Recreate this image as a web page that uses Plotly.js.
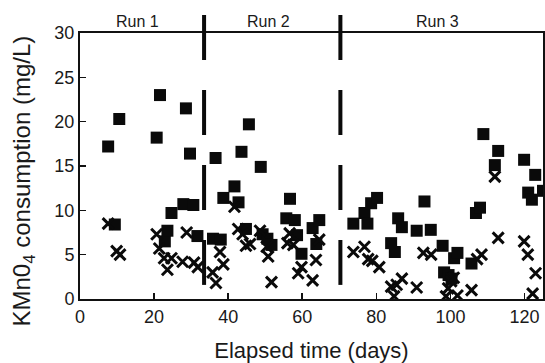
<!DOCTYPE html>
<html>
<head>
<meta charset="utf-8">
<script src="https://cdn.plot.ly/plotly-3.0.1.min.js"></script>
<style>html,body{margin:0;padding:0;background:#fff;}#chart{width:545px;height:363px;}</style>
</head>
<body>
<div id="chart"></div>
<script>
// Series A: filled squares
var sqDays = [7.6, 9.4, 10.6, 20.7, 21.6, 22.9, 23.6, 24.7, 27.9, 28.6, 29.7, 30.6, 31.7,
  35.9, 36.6, 38.0, 38.7, 41.7, 42.8, 43.6, 44.8, 45.6, 48.8, 49.3, 50.6, 51.7, 55.7, 56.7, 58.0, 58.6, 59.8, 62.8, 63.8, 64.6,
  73.8, 76.8, 77.6, 78.6, 80.2, 84.0, 85.0, 85.9, 86.9, 90.9, 93.0, 94.7, 97.9, 98.3, 99.5, 100.3, 101.0, 101.9, 105.7,
  106.9, 108.0, 108.9, 112.0, 112.9, 119.9, 121.0, 122.0, 122.9, 125.0];
var sqValues = [17.2, 8.4, 20.3, 18.2, 23.0, 6.5, 7.7, 9.7, 10.7, 21.5, 16.4, 10.6, 7.1,
  6.8, 15.9, 6.7, 11.4, 12.7, 10.9, 16.6, 7.9, 19.7, 14.9, 7.3, 6.8, 6.1, 9.1, 11.3, 8.9, 7.2, 5.1, 8.0, 6.2, 8.9,
  8.5, 9.7, 8.5, 10.8, 11.4, 6.3, 5.3, 9.1, 8.1, 7.7, 11.0, 7.8, 6.0, 3.0, 2.7, 2.3, 4.6, 5.2, 4.0,
  9.7, 10.3, 18.6, 15.1, 16.7, 15.7, 12.0, 11.2, 14.0, 12.2];

// Series B: crosses
var xDays = [7.6, 9.9, 10.8, 20.7, 21.4, 22.7, 23.6, 24.7, 27.7, 28.8, 30.8, 31.8,
  35.8, 36.7, 37.8, 38.7, 41.7, 42.7, 43.9, 44.8, 45.9, 48.6, 50.4, 50.8, 51.7, 56.0, 56.6, 57.6, 58.9, 59.8, 62.8, 63.7, 64.6,
  73.8, 76.8, 77.8, 78.9, 80.8, 84.0, 84.8, 85.5, 86.9, 90.9, 92.7, 94.8, 98.8, 99.4, 100.2, 100.9, 101.9, 105.7,
  107.2, 108.4, 112.0, 112.9, 119.9, 120.9, 122.2, 123.0];
var xValues = [8.5, 5.4, 5.0, 7.3, 5.7, 4.6, 3.3, 4.6, 4.2, 7.5, 4.1, 3.6,
  3.0, 1.8, 5.3, 3.9, 10.4, 7.9, 7.3, 6.0, 6.2, 7.7, 5.9, 4.8, 1.9, 6.3, 7.4, 6.1, 2.9, 3.6, 2.1, 4.4, 6.7,
  5.3, 5.9, 4.5, 4.3, 3.6, 1.4, 0.3, 1.6, 2.3, 1.3, 5.2, 5.0, 0.3, 1.2, 2.0, 2.4, 0.4, 1.0,
  4.5, 5.0, 13.8, 6.9, 6.5, 5.0, 0.6, 2.9];

// Run boundaries and labels
var runBoundaries = [33.5, 70.3];
var runLabels = ['Run 1', 'Run 2', 'Run 3'];
var runLabelDays = [15.4, 50.8, 96.4];

var xTicks = [0, 20, 40, 60, 80, 100, 120];
var yTicks = [0, 5, 10, 15, 20, 25, 30];

var FONT = 'Liberation Sans, Arial, Helvetica, sans-serif';
var INK = '#1a1a1a';

var traces = [
  {x: sqDays, y: sqValues, type: 'scatter', mode: 'markers', name: 'squares',
   marker: {symbol: 'square', size: 12, color: '#0a0a0a', line: {width: 0}}},
  {x: xDays, y: xValues, type: 'scatter', mode: 'markers', name: 'crosses',
   marker: {symbol: 'x-thin-open', size: 11, color: '#0a0a0a', line: {width: 3, color: '#0a0a0a'}}}
];

var shapes = runBoundaries.map(function (d) {
  return {type: 'line', xref: 'x', yref: 'paper', x0: d, x1: d, y0: 1.068, y1: 0.053,
    line: {color: '#0a0a0a', width: 4, dash: '45px,30px'}, layer: 'above'};
});

var annotations = runLabels.map(function (t, i) {
  return {text: t, x: runLabelDays[i], xref: 'x', y: 1.045, yref: 'paper',
    showarrow: false, xanchor: 'center', yanchor: 'middle',
    font: {family: FONT, size: 16, color: INK}};
});
annotations.push({
  text: 'KMn0<sub>4</sub> consumption (mg/L)', textangle: -90,
  xref: 'paper', x: -0.123, yref: 'paper', y: 0.442,
  xanchor: 'center', yanchor: 'middle', showarrow: false,
  font: {family: FONT, size: 24, color: INK}
});

var layout = {
  width: 545, height: 363,
  margin: {l: 80, r: 2, t: 33, b: 64, pad: 0},
  paper_bgcolor: '#fff', plot_bgcolor: '#fff',
  showlegend: false,
  font: {family: FONT, color: INK},
  xaxis: {
    range: [0, 125], tickvals: xTicks, ticktext: xTicks.map(String),
    ticks: 'inside', ticklen: 6, tickwidth: 1.5, tickcolor: '#111',
    showline: true, linewidth: 2, linecolor: '#111', mirror: true,
    showgrid: false, zeroline: false,
    tickfont: {family: FONT, size: 18, color: INK},
    title: {text: 'Elapsed time (days)', font: {family: FONT, size: 22, color: INK}, standoff: 18}
  },
  yaxis: {
    range: [0, 30], tickvals: yTicks, ticktext: yTicks.map(String),
    ticks: 'inside', ticklen: 6, tickwidth: 1.5, tickcolor: '#111',
    showline: true, linewidth: 2, linecolor: '#111', mirror: true,
    showgrid: false, zeroline: false,
    tickfont: {family: FONT, size: 18, color: INK}
  },
  shapes: shapes,
  annotations: annotations
};

Plotly.newPlot('chart', traces, layout, {displayModeBar: false, staticPlot: true});
</script>
</body>
</html>
